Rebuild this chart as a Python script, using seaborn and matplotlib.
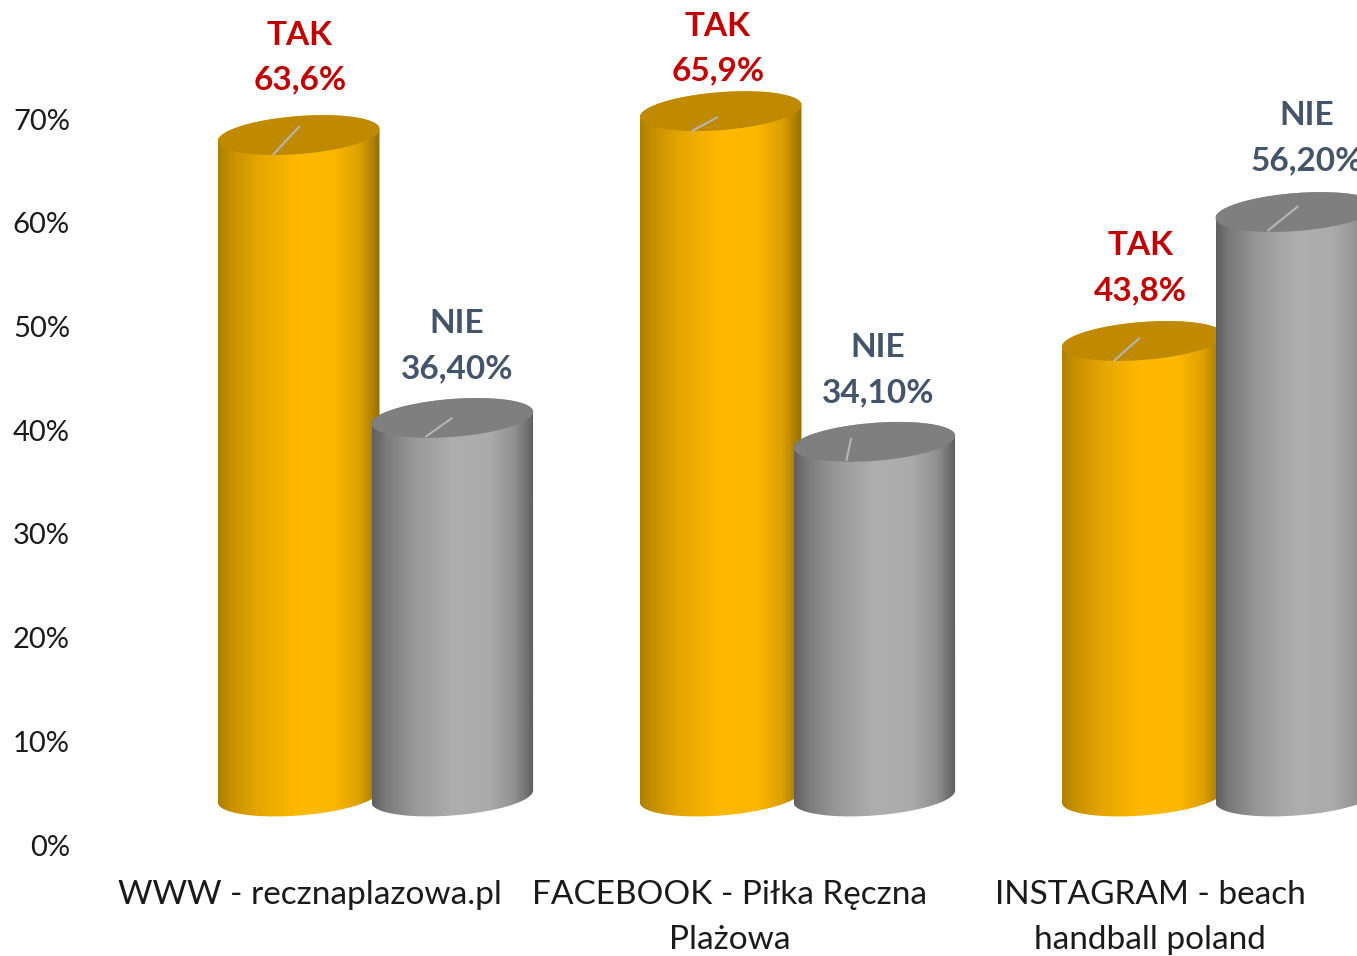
import numpy as np
import pandas as pd
import matplotlib
matplotlib.use("Agg")
import matplotlib.pyplot as plt
from matplotlib.colors import LinearSegmentedColormap
from matplotlib.path import Path
from matplotlib.patches import PathPatch
import seaborn as sns

categories = ["WWW - recznaplazowa.pl", "FACEBOOK - Piłka Ręczna\nPlażowa", "INSTAGRAM - beach\nhandball poland"]
tak_values = [63.6, 65.9, 43.8]
nie_values = [36.4, 34.1, 56.2]
tak_labels = ["63,6%", "65,9%", "43,8%"]
nie_labels = ["36,40%", "34,10%", "56,20%"]
y_ticks = [0, 10, 20, 30, 40, 50, 60, 70]

W, H = 1357, 956
sns.set_theme(style="white")
plt.rcParams["font.family"] = ["Lato", "DejaVu Sans"]
fig = plt.figure(figsize=(W / 100, H / 100), dpi=100)

# pixel geometry of the 3D projection
ZERO_PX, PX_PER_UNIT = 796.5, 10.4
GROUP0_PX, GROUP_STEP = 375.5, 422.0

# tick axes (flat front scale of the chart)
axt = fig.add_axes([0, 1 - 870 / H, 1, 870 / H])
t_unit = (845 - 119) / 70
axt.set_ylim((845 - 870) / t_unit, 845 / t_unit)
axt.set_xlim(-310 / 420, (W - 310) / 420)
axt.set_yticks(y_ticks, [f"{v}%" for v in y_ticks])
axt.set_xticks(range(3), categories)
axt.tick_params(axis="y", length=0, pad=-70 * 0.72, labelsize=21, labelcolor="#1A1A1A")
axt.tick_params(axis="x", length=0, pad=7, labelsize=24, labelcolor="#1A1A1A")
for lab in axt.get_xticklabels():
    lab.set_linespacing(1.64)
for s in axt.spines.values():
    s.set_visible(False)
axt.patch.set_alpha(0)

# main axes, full figure
ax = fig.add_axes([0, 0, 1, 1])
ax.patch.set_alpha(0)
df = pd.DataFrame({
    "cat": categories * 2,
    "val": tak_values + nie_values,
    "ser": ["TAK"] * 3 + ["NIE"] * 3,
})
sns.barplot(data=df, x="cat", y="val", hue="ser", hue_order=["TAK", "NIE"],
            width=0.728, gap=-0.052, dodge=True, legend=False, ax=ax,
            palette={"TAK": "#FFB900", "NIE": "#ADADAD"}, saturation=1)
xlim = (-GROUP0_PX / GROUP_STEP, (W - GROUP0_PX) / GROUP_STEP)
ylim = ((ZERO_PX - H) / PX_PER_UNIT, ZERO_PX / PX_PER_UNIT)
ax.set_xlim(*xlim)
ax.set_ylim(*ylim)
ax.axis("off")

cm_tak = LinearSegmentedColormap.from_list("tak", [(0, "#AD7F00"), (0.08, "#C79000"), (0.25, "#E5A600"),
                                                   (0.5, "#FFB900"), (0.72, "#FCB700"), (0.88, "#DDA000"), (1, "#946D00")])
cm_nie = LinearSegmentedColormap.from_list("nie", [(0, "#606060"), (0.08, "#797979"), (0.25, "#979797"),
                                                   (0.5, "#AEAEAE"), (0.72, "#ABABAB"), (0.88, "#929292"), (1, "#5E5E5E")])
top_col = {"TAK": "#C08A00", "NIE": "#7F7F7F"}
grad = np.linspace(0, 1, 256).reshape(1, -1)

B_PX, TILT_PX = 19.0, 6.0
b = B_PX / PX_PER_UNIT
k = TILT_PX / PX_PER_UNIT
t = np.linspace(0, 2 * np.pi, 181)

# offsets from the top-ellipse centre, px, in bar order TAK x3, NIE x3
leaders = [(-26, 20, 1, -9), (-29, 20, -3, 6), (-29, 20, -3, -3),
           (-27, 19, 0, 0), (-28, 19, -23, -4), (-29, 19, 2, -6)]
lab_off = [(1, -77.5), (-3, -62.5), (-2, -72.5), (4.5, -71.5), (3.5, -72), (10, -74)]
texts = ["TAK\n" + s for s in tak_labels] + ["NIE\n" + s for s in nie_labels]
series = ["TAK"] * 3 + ["NIE"] * 3

bars = list(ax.patches)[:6]
order = sorted(range(6), key=lambda i: (i % 3, i // 3))
z = 3
for i in order:
    p = bars[i]
    ser = series[i]
    x0, w, h = p.get_x(), p.get_width(), p.get_height()
    p.set_visible(False)
    cx, a = x0 + w / 2, w / 2
    c, s = np.cos(t), np.sin(t)
    tb = np.linspace(np.pi, 2 * np.pi, 91)
    bx = cx + a * np.cos(tb)
    by = 0 + b * np.sin(tb) + k * np.cos(tb)
    tt = np.linspace(0, np.pi, 91)
    ux = cx + a * np.cos(tt)
    uy = h + b * np.sin(tt) + k * np.cos(tt)
    verts = np.column_stack([np.r_[bx, ux], np.r_[by, uy]])
    body = PathPatch(Path(np.vstack([verts, verts[0]])), transform=ax.transData, fc="none", ec="none")
    ax.add_patch(body)
    im = ax.imshow(grad, cmap=cm_tak if ser == "TAK" else cm_nie, aspect="auto",
                   extent=(x0, x0 + w, ylim[0], ylim[1]), zorder=z, interpolation="bilinear")
    im.set_clip_path(body)
    ax.fill(cx + a * c, h + b * s + k * c, color=top_col[ser], lw=0, zorder=z + 1)
    d = leaders[i]
    ax.plot([cx + d[0] / GROUP_STEP, cx + d[2] / GROUP_STEP],
            [h - d[1] / PX_PER_UNIT, h - d[3] / PX_PER_UNIT],
            color="#B5B5B5", lw=1.5, zorder=z + 2, solid_capstyle="butt")
    o = lab_off[i]
    ax.annotate(texts[i], (cx, h), xytext=(o[0] * 0.72, -o[1] * 0.72), textcoords="offset points",
                ha="center", va="center", fontsize=24, fontweight="bold", linespacing=1.67,
                color="#C00000" if ser == "TAK" else "#44546A", zorder=20, annotation_clip=False)
    z += 3
ax.set_xlim(*xlim)
ax.set_ylim(*ylim)

fig.savefig("out.png", dpi=100, facecolor="white")
